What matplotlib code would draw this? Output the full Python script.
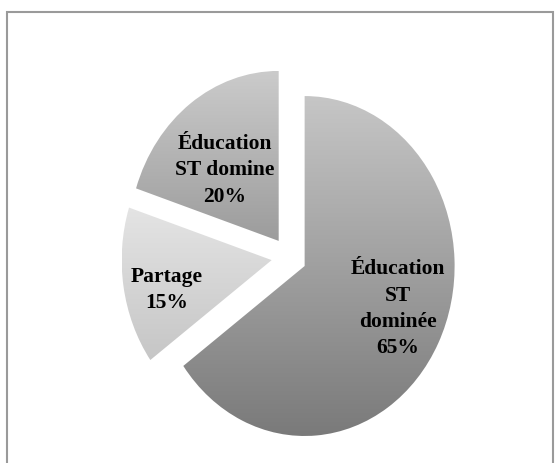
import matplotlib
matplotlib.use("Agg")
import matplotlib.pyplot as plt
import numpy as np

labels = ["Éducation\nST\ndominée", "Partage", "Éducation\nST domine"]
values = [65, 15, 20]
# top / bottom gray of each wedge's gradient
top_colors = ["#c6c6c6", "#e4e4e4", "#cbcbcb"]
bottom_colors = ["#7a7a7a", "#c6c6c6", "#9c9c9c"]
label_radius = [0.67, 0.72, 0.55]

fig = plt.figure(figsize=(5.6, 4.63), dpi=100)
ax = fig.add_axes([0, 0, 1, 1])

wedges, texts = ax.pie(
    values, startangle=90, counterclock=False,
    explode=[0.117] * 3,
    wedgeprops=dict(linewidth=0),
)

def rgb(c):
    return np.array(matplotlib.colors.to_rgb(c))

for w, c1, c2 in zip(wedges, top_colors, bottom_colors):
    w.set_facecolor("none")
    bb = w.get_path().get_extents(w.get_transform() - ax.transData)
    t = np.linspace(0, 1, 256)[:, None]
    grad = (1 - t) * rgb(c1) + t * rgb(c2)
    img = np.repeat(grad[:, None, :], 2, axis=1)
    im = ax.imshow(img, extent=[bb.x0, bb.x1, bb.y0, bb.y1], origin="upper",
                   aspect="auto", zorder=1, interpolation="bilinear")
    im.set_clip_path(w)

# labels inside each wedge
for w, lab, v, r in zip(wedges, labels, values, label_radius):
    ang = np.deg2rad((w.theta1 + w.theta2) / 2 + 5)
    cx, cy = w.center
    ax.text(cx + r * np.cos(ang), cy + r * np.sin(ang), f"{lab}\n{v}%",
            ha="center", va="center", family="Liberation Serif",
            fontweight="bold", fontsize=15.5, linespacing=1.42, zorder=3)

ax.set_aspect("auto")
ax.set_xlim(-1.927, 1.807)
ax.set_ylim(-1.212, 1.512)
ax.axis("off")

# outer frame
fig.patches.append(plt.Rectangle((7 / 560, -0.02), 546 / 560, 1 - 12 / 463 + 0.02,
                                 transform=fig.transFigure, fill=False,
                                 edgecolor="#9a9a9a", linewidth=1.5))

plt.savefig("out.png", dpi=100)
plt.close()
